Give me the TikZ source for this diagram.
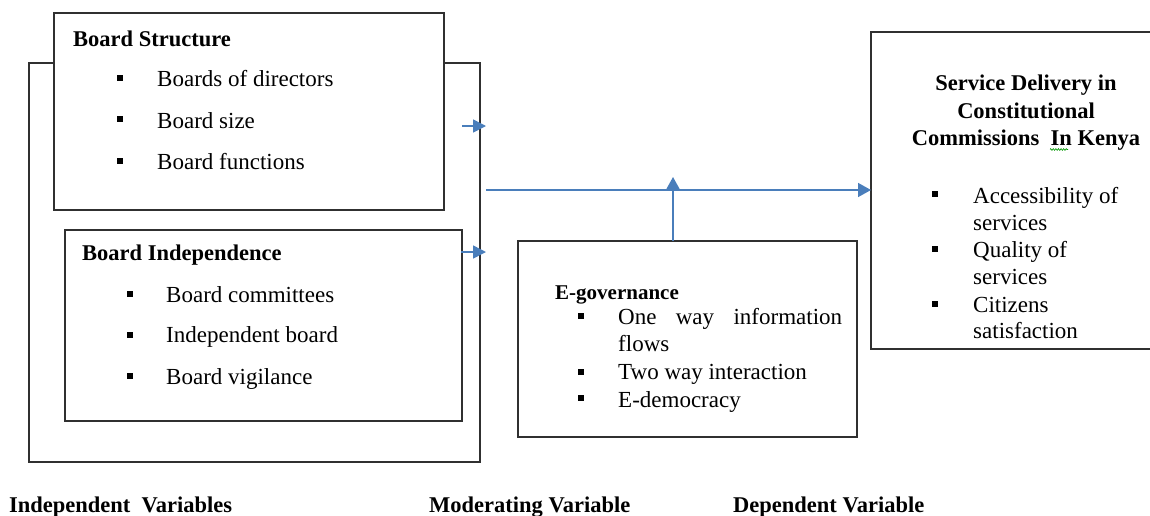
\documentclass[tikz,border=0pt]{standalone}
\usepackage{fontspec}
\setmainfont{Liberation Serif}
\usetikzlibrary{arrows.meta,decorations.pathmorphing}
\definecolor{arrowblue}{HTML}{4A7EBB}
\definecolor{boxgray}{HTML}{303030}
\begin{document}
\begin{tikzpicture}[x=1pt,y=-1pt,
  box/.style={draw=boxgray,line width=1.1pt,fill=white,anchor=north west,inner sep=0,outer sep=0},
  txt/.style={anchor=base west,inner sep=0,font=\fontsize{23}{27.5}\selectfont},
  head/.style={anchor=base west,inner sep=0,font=\fontsize{22.5}{27.5}\selectfont\bfseries},
  chead/.style={anchor=base,inner sep=0,font=\fontsize{22.5}{27.5}\selectfont\bfseries},
  bul/.style={fill=black,minimum size=6.5pt,inner sep=0},
  conn/.style={draw=arrowblue,line width=1.5pt,-{Triangle[length=13pt,width=14pt]}}
]
\useasboundingbox (0,0) rectangle (1150,515);
\clip (0,0) rectangle (1150,515);

% boxes
\node[box,minimum width=451pt,minimum height=399pt] (outer) at (29,63) {};
\node[box,minimum width=390pt,minimum height=197pt] (bs) at (54,13) {};
\node[box,minimum width=397pt,minimum height=191pt] (bi) at (65,230) {};
\node[box,minimum width=339pt,minimum height=196pt] (eg) at (518,241) {};
\node[box,minimum width=300pt,minimum height=317pt] (sd) at (871,32) {};

% Board Structure
\node[head] (bsh) at (73,46) {Board Structure};
\node[bul] (bsb1) at (120,78) {};
\node[bul] (bsb2) at (120,119) {};
\node[bul] (bsb3) at (120,161) {};
\node[txt] (bst1) at (157,86) {Boards of directors};
\node[txt] (bst2) at (157,128) {Board size};
\node[txt] (bst3) at (157,169) {Board functions};

% Board Independence
\node[head] (bih) at (82,260) {Board Independence};
\node[bul] (bib1) at (130,294) {};
\node[bul] (bib2) at (130,335) {};
\node[bul] (bib3) at (130,376) {};
\node[txt] (bit1) at (166,302) {Board committees};
\node[txt] (bit2) at (166,342) {Independent board};
\node[txt] (bit3) at (166,384) {Board vigilance};

% E-governance
\node[anchor=base west,inner sep=0,font=\fontsize{21}{27}\selectfont\bfseries] (egh) at (555,299) {E-governance};
\node[bul] (egb1) at (581,316) {};
\node[bul] (egb2) at (581,372) {};
\node[bul] (egb3) at (581,398) {};
\node[txt] (egt1) at (618,324) {\makebox[224pt][s]{One way information}};
\node[txt] (egt1b) at (618,351) {flows};
\node[txt] (egt2) at (618,379) {Two way interaction};
\node[txt] (egt3) at (618,407) {E-democracy};

% Service Delivery
\node[chead] (sdh1) at (1026,90) {Service Delivery in};
\node[chead] (sdh2) at (1026,118) {Constitutional};
\node[chead] (sdh3) at (1026,145) {Commissions\ \ In Kenya};
\draw[green!60!black,line width=0.6pt,decorate,decoration={zigzag,amplitude=0.9pt,segment length=2.6pt}] (1050,149.5) -- (1068,149.5);
\node[bul] (sdb1) at (935,194) {};
\node[bul] (sdb2) at (935,249) {};
\node[bul] (sdb3) at (935,304) {};
\node[txt] (sdt1) at (973,203) {Accessibility of};
\node[txt] (sdt1b) at (973,230) {services};
\node[txt] (sdt2) at (973,257) {Quality of};
\node[txt] (sdt2b) at (973,284) {services};
\node[txt] (sdt3) at (973,312) {Citizens};
\node[txt] (sdt3b) at (973,338) {satisfaction};

% bottom labels
\node[head] (lab1) at (9,512) {Independent\ \ Variables};
\node[head] (lab2) at (429,512) {Moderating Variable};
\node[head] (lab3) at (733,512) {Dependent Variable};

% connectors
\coordinate (a1s) at (462,126);
\coordinate (a1e) at (486,126);
\coordinate (a2s) at (461,252);
\coordinate (a2e) at (486,252);
\coordinate (hs) at (486,190);
\coordinate (vt) at (673,177);
\draw[conn,-{Triangle[length=13pt,width=13pt]}] (a1s) -- (a1e);
\draw[conn,-{Triangle[length=13pt,width=13pt]}] (a2s) -- (a2e);
\draw[conn] (hs) -- (hs -| sd.west);
\draw[conn] (vt |- eg.north) -- (vt);
\end{tikzpicture}
\end{document}
